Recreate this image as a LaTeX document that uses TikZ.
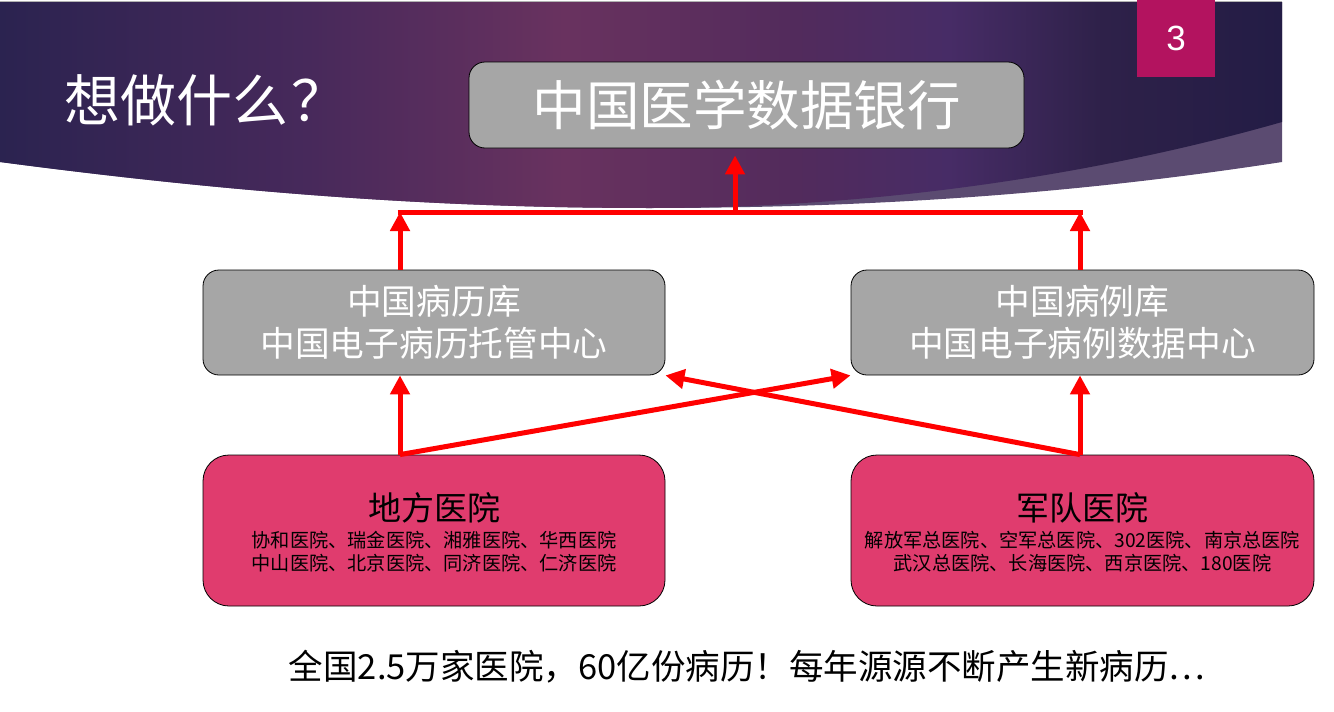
\documentclass[tikz,border=0pt]{standalone}
\usepackage{fontspec}
\setmainfont{Noto Sans CJK SC}
\newfontfamily\numfont{Liberation Sans}
\usetikzlibrary{arrows.meta,positioning}

\definecolor{bnA}{HTML}{2B2350}
\definecolor{bnB}{HTML}{47295B}
\definecolor{bnC}{HTML}{69325F}
\definecolor{bnD}{HTML}{522B5C}
\definecolor{bnE}{HTML}{472C66}
\definecolor{bnF}{HTML}{2E2149}
\definecolor{bnG}{HTML}{231C45}
\definecolor{bandgrey}{HTML}{5B4B71}
\definecolor{boxgrey}{HTML}{A6A6A6}
\definecolor{boxpink}{HTML}{E03C6E}
\definecolor{pgnored}{HTML}{B3135F}

\pgfdeclarehorizontalshading{banner}{100bp}{color(0bp)=(bnA); color(25bp)=(bnA);
  color(37bp)=(bnB); color(47bp)=(bnC); color(56bp)=(bnD); color(62bp)=(bnE);
  color(68bp)=(bnF); color(75bp)=(bnG); color(100bp)=(bnG)}

\newcommand{\ttlsz}{\fontsize{56}{62}\selectfont}
\newcommand{\banksz}{\fontsize{53.5}{60}\selectfont}
\newcommand{\libsz}{\fontsize{34.7}{42}\selectfont}
\newcommand{\hosz}{\fontsize{33}{40}\selectfont}
\newcommand{\lstsz}{\fontsize{19.2}{23}\selectfont}
\newcommand{\footsz}{\fontsize{34.5}{40}\selectfont}

\tikzset{
  greybox/.style={draw=black, fill=boxgrey, rounded corners=16pt, line width=0.8pt,
    text=white, align=center, inner sep=0pt},
  pinkbox/.style={draw=black, fill=boxpink, rounded corners=26pt, line width=0.8pt,
    minimum width=462pt, minimum height=151pt, inner sep=0pt},
  redarrow/.style={draw=red, line width=5pt, -{Triangle[length=19pt,width=19pt]}},
  redline/.style={draw=red, line width=5pt},
}

\begin{document}
\begin{tikzpicture}[x=1pt,y=-1pt]
   \useasboundingbox (0,0) rectangle (1334,712);
   \fill[white] (0,0) rectangle (1334,712);
   \fill[bandgrey] (0,2) -- (1282,2) -- (1282,162)
      .. controls (1100,190) and (900,208) .. (650,208)
      .. controls (450,208) and (250,195) .. (0,162) -- cycle;
   \shade[shading=banner] (0,2) -- (1282,2) -- (1282,122)
      .. controls (1100,174) and (880,208) .. (650,208)
      .. controls (450,208) and (250,195) .. (0,162) -- cycle;
   \draw[gray!60, line width=1pt] (0,1.5) -- (1282,1.5);

   \node[fill=pgnored, minimum width=78pt, minimum height=77pt, inner sep=0pt,
     text=white, font=\numfont\fontsize{35}{40}\selectfont] (pgno) at (1176,38.5) {3};
   \node[text=white, font=\ttlsz, inner sep=0pt] (ttl) at (206,100) {想做什么\kern4pt？};

   \node[greybox, minimum width=555pt, minimum height=86pt, font=\banksz]
     (bank) at (746.5,105) {中国医学数据银行};
   \node[greybox, minimum width=462pt, minimum height=105pt, font=\libsz]
     (blk) at (434,322.5) {中国病历库\\中国电子病历托管中心};
   \node[greybox, minimum width=463pt, minimum height=105pt, font=\libsz]
     (blr) at (1082.5,322.5) {中国病例库\\中国电子病例数据中心};

   \node[pinkbox] (dfyy) at (434,530.5) {};
   \node[pinkbox, minimum width=463pt] (jdyy) at (1082.5,530.5) {};
   \node[font=\hosz, inner sep=0pt] (dfyyt) at (434,508) {地方医院};
   \node[font=\hosz, inner sep=0pt] (jdyyt) at (1082.5,508) {军队医院};
   \node[font=\lstsz, align=center, inner sep=0pt] (dfyyl) at (434,551.5)
     {协和医院、瑞金医院、湘雅医院、华西医院\\中山医院、北京医院、同济医院、仁济医院};
   \node[font=\lstsz, align=center, inner sep=0pt] (jdyyl) at (1082.5,551.5)
     {解放军总医院、空军总医院、302医院、南京总医院\\武汉总医院、长海医院、西京医院、180医院};

   \node[font=\footsz, inner sep=0pt] (foot) at (747,667)
     {全国2.5万家医院，60亿份病历！每年源源不断产生新病历…};

   \coordinate (hl) at (400,212);
   \coordinate (hr) at (1080,212);
   \coordinate (hm) at (735,212);
   \draw[redarrow] ([xshift=-34pt]dfyy.north) -- ([xshift=-34pt]blk.south);
   \draw[redarrow] ([xshift=-2.5pt]jdyy.north) -- ([xshift=-2.5pt]blr.south);
   \draw[redarrow] ([xshift=-34pt]dfyy.north) -- (blr.south west);
   \draw[redarrow] ([xshift=-2.5pt]jdyy.north) -- (blk.south east);
   \draw[redarrow] ([xshift=-34pt]blk.north) -- (hl);
   \draw[redarrow] ([xshift=-2.5pt]blr.north) -- (hr);
   \draw[redline] ([xshift=-2.5pt]hl) -- ([xshift=2.5pt]hr);
   \draw[redarrow] (hm) -- ([xshift=-11.5pt,yshift=-7pt]bank.south);
\end{tikzpicture}
\end{document}
